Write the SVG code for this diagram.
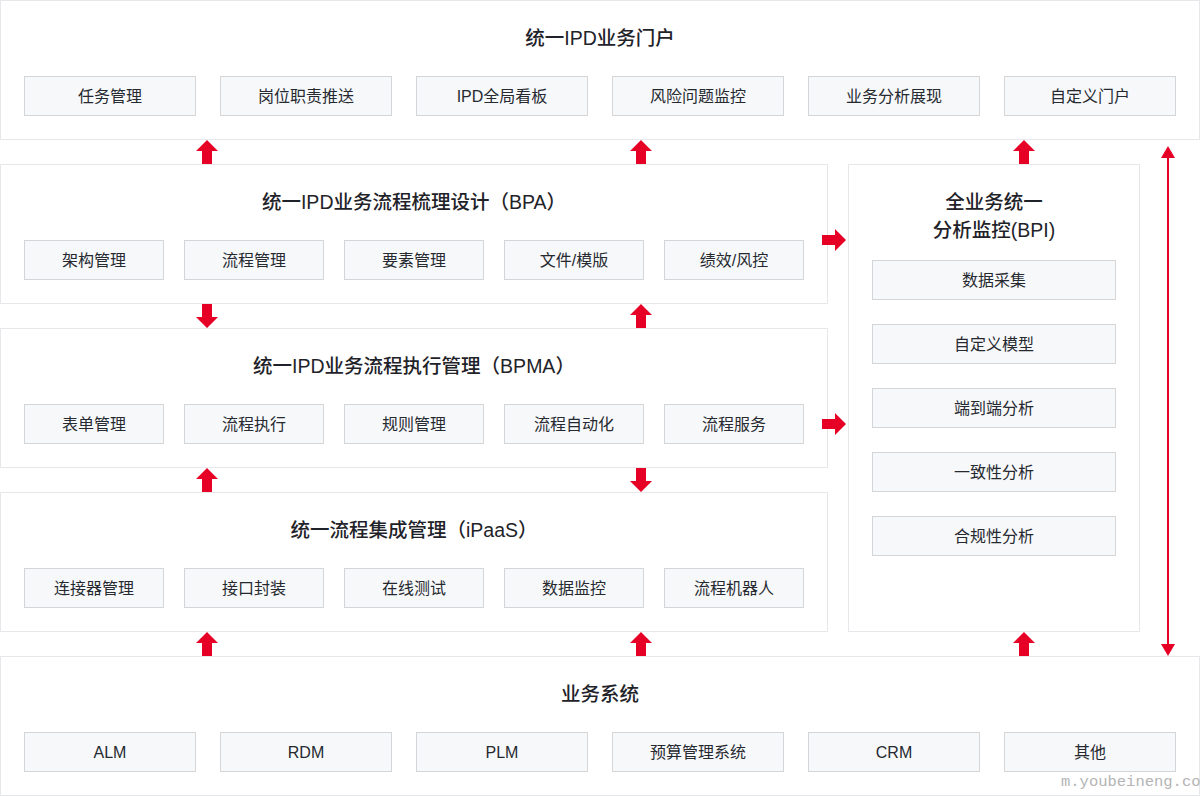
<svg xmlns="http://www.w3.org/2000/svg" width="1200" height="796" viewBox="0 0 1200 796">
<style>
.panel{fill:#ffffff;stroke:#e6e7ea;stroke-width:1}
.item{fill:#f7f8fa;stroke:#d3d5d9;stroke-width:1}
.title{font-family:"Liberation Sans","Noto Sans CJK SC",sans-serif;font-size:19.5px;font-weight:500;fill:#1f2329;text-anchor:middle}
.label{font-family:"Liberation Sans","Noto Sans CJK SC",sans-serif;font-size:16px;fill:#262a30;text-anchor:middle}
.arrow{fill:#e60026}
.wm{font-family:"Liberation Mono","DejaVu Sans Mono",monospace;font-size:15.5px;fill:#b4b4b4}
</style>
<defs>
<path id="up" class="arrow" d="M0,0 L11,11 L5,11 L5,24 L-5,24 L-5,11 L-11,11 Z"/>
<path id="down" class="arrow" d="M0,24 L11,13 L5,13 L5,0 L-5,0 L-5,13 L-11,13 Z"/>
<path id="right" class="arrow" d="M24,0 L13,11 L13,5 L0,5 L0,-5 L13,-5 L13,-11 Z"/>
</defs>
<rect width="1200" height="796" fill="#ffffff"/>

<g id="portal">
<rect class="panel" x="0.5" y="0.5" width="1199" height="139"/>
<text class="title" x="600" y="45">统一IPD业务门户</text>
<rect class="item" x="24.5" y="76.5" width="171" height="39"/><text class="label" x="110" y="102">任务管理</text>
<rect class="item" x="220.5" y="76.5" width="171" height="39"/><text class="label" x="306" y="102">岗位职责推送</text>
<rect class="item" x="416.5" y="76.5" width="171" height="39"/><text class="label" x="502" y="102">IPD全局看板</text>
<rect class="item" x="612.5" y="76.5" width="171" height="39"/><text class="label" x="698" y="102">风险问题监控</text>
<rect class="item" x="808.5" y="76.5" width="171" height="39"/><text class="label" x="894" y="102">业务分析展现</text>
<rect class="item" x="1004.5" y="76.5" width="171" height="39"/><text class="label" x="1090" y="102">自定义门户</text>
</g>

<g id="bpa">
<rect class="panel" x="0.5" y="164.5" width="827" height="139"/>
<text class="title" x="414" y="209">统一IPD业务流程梳理设计（BPA）</text>
<rect class="item" x="24.5" y="240.5" width="139" height="39"/><text class="label" x="94" y="266">架构管理</text>
<rect class="item" x="184.5" y="240.5" width="139" height="39"/><text class="label" x="254" y="266">流程管理</text>
<rect class="item" x="344.5" y="240.5" width="139" height="39"/><text class="label" x="414" y="266">要素管理</text>
<rect class="item" x="504.5" y="240.5" width="139" height="39"/><text class="label" x="574" y="266">文件/模版</text>
<rect class="item" x="664.5" y="240.5" width="139" height="39"/><text class="label" x="734" y="266">绩效/风控</text>
</g>

<g id="bpma">
<rect class="panel" x="0.5" y="328.5" width="827" height="139"/>
<text class="title" x="414" y="373">统一IPD业务流程执行管理（BPMA）</text>
<rect class="item" x="24.5" y="404.5" width="139" height="39"/><text class="label" x="94" y="430">表单管理</text>
<rect class="item" x="184.5" y="404.5" width="139" height="39"/><text class="label" x="254" y="430">流程执行</text>
<rect class="item" x="344.5" y="404.5" width="139" height="39"/><text class="label" x="414" y="430">规则管理</text>
<rect class="item" x="504.5" y="404.5" width="139" height="39"/><text class="label" x="574" y="430">流程自动化</text>
<rect class="item" x="664.5" y="404.5" width="139" height="39"/><text class="label" x="734" y="430">流程服务</text>
</g>

<g id="ipaas">
<rect class="panel" x="0.5" y="492.5" width="827" height="139"/>
<text class="title" x="414" y="537">统一流程集成管理（iPaaS）</text>
<rect class="item" x="24.5" y="568.5" width="139" height="39"/><text class="label" x="94" y="594">连接器管理</text>
<rect class="item" x="184.5" y="568.5" width="139" height="39"/><text class="label" x="254" y="594">接口封装</text>
<rect class="item" x="344.5" y="568.5" width="139" height="39"/><text class="label" x="414" y="594">在线测试</text>
<rect class="item" x="504.5" y="568.5" width="139" height="39"/><text class="label" x="574" y="594">数据监控</text>
<rect class="item" x="664.5" y="568.5" width="139" height="39"/><text class="label" x="734" y="594">流程机器人</text>
</g>

<g id="bpi">
<rect class="panel" x="848.5" y="164.5" width="291" height="467"/>
<text class="title" x="994" y="209">全业务统一</text>
<text class="title" x="994" y="237">分析监控(BPI)</text>
<rect class="item" x="872.5" y="260.5" width="243" height="39"/><text class="label" x="994" y="286">数据采集</text>
<rect class="item" x="872.5" y="324.5" width="243" height="39"/><text class="label" x="994" y="350">自定义模型</text>
<rect class="item" x="872.5" y="388.5" width="243" height="39"/><text class="label" x="994" y="414">端到端分析</text>
<rect class="item" x="872.5" y="452.5" width="243" height="39"/><text class="label" x="994" y="478">一致性分析</text>
<rect class="item" x="872.5" y="516.5" width="243" height="39"/><text class="label" x="994" y="542">合规性分析</text>
</g>

<g id="systems">
<rect class="panel" x="0.5" y="656.5" width="1199" height="139"/>
<text class="title" x="600" y="701">业务系统</text>
<rect class="item" x="24.5" y="732.5" width="171" height="39"/><text class="label" x="110" y="758">ALM</text>
<rect class="item" x="220.5" y="732.5" width="171" height="39"/><text class="label" x="306" y="758">RDM</text>
<rect class="item" x="416.5" y="732.5" width="171" height="39"/><text class="label" x="502" y="758">PLM</text>
<rect class="item" x="612.5" y="732.5" width="171" height="39"/><text class="label" x="698" y="758">预算管理系统</text>
<rect class="item" x="808.5" y="732.5" width="171" height="39"/><text class="label" x="894" y="758">CRM</text>
<rect class="item" x="1004.5" y="732.5" width="171" height="39"/><text class="label" x="1090" y="758">其他</text>
</g>

<g id="connectors">
<use href="#up" x="207" y="140"/>
<use href="#up" x="641" y="140"/>
<use href="#up" x="1024" y="140"/>
<use href="#down" x="207" y="304"/>
<use href="#up" x="641" y="304"/>
<use href="#up" x="207" y="468"/>
<use href="#down" x="641" y="468"/>
<use href="#up" x="207" y="632"/>
<use href="#up" x="641" y="632"/>
<use href="#up" x="1024" y="632"/>
<use href="#right" x="822" y="240"/>
<use href="#right" x="822" y="424"/>
<line x1="1168" y1="155" x2="1168" y2="646" stroke="#e60026" stroke-width="2"/>
<path class="arrow" d="M1168,146 L1175,158 L1161,158 Z"/>
<path class="arrow" d="M1168,656 L1175,644 L1161,644 Z"/>
</g>

<text class="wm" x="1061" y="786">m.youbeineng.com</text>
</svg>
